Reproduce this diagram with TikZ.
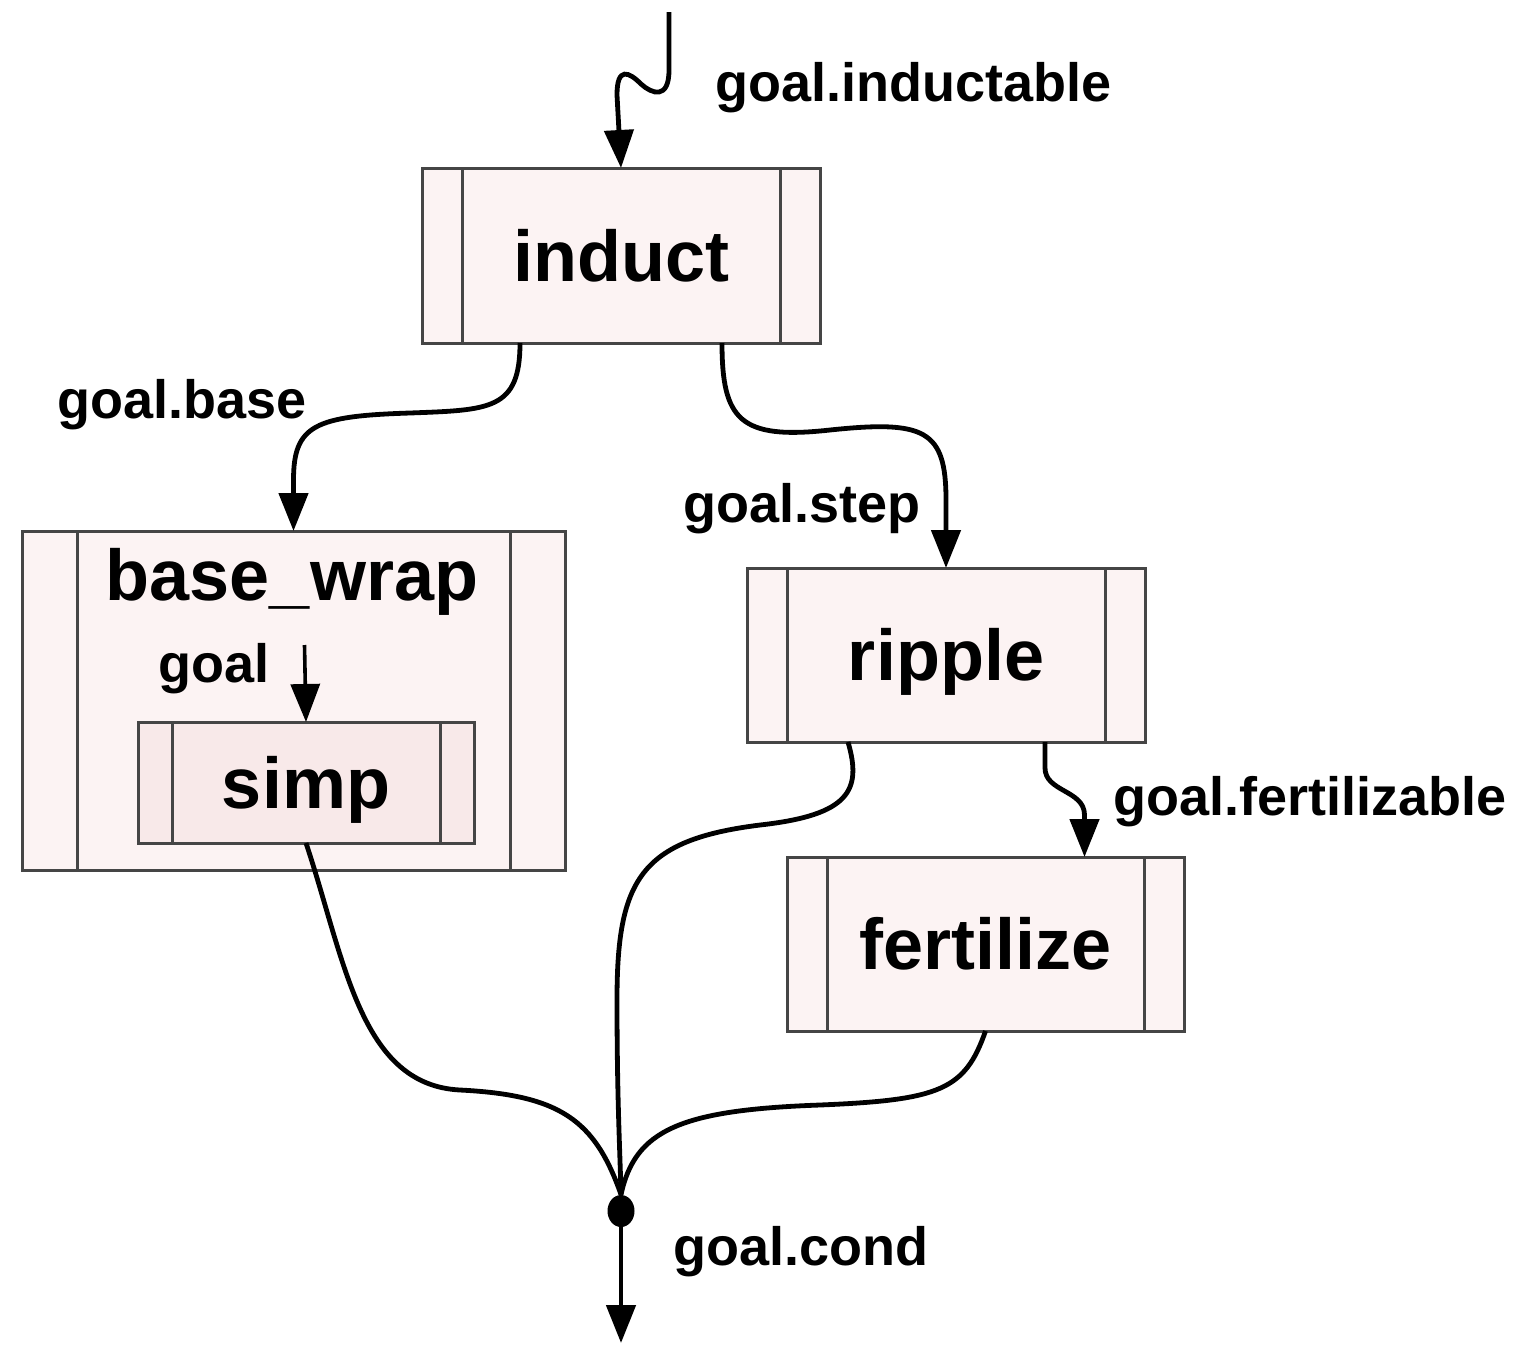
\documentclass[tikz,border=0pt]{standalone}
\usepackage{fontspec}
\setmainfont{Liberation Sans}
\usetikzlibrary{arrows.meta,calc,shapes.geometric}
\definecolor{frameline}{HTML}{454545}
\definecolor{boxfill}{HTML}{FCF3F3}
\definecolor{innerfill}{HTML}{F8E9E9}
\tikzset{
  proc/.style={draw=frameline, fill=boxfill, line width=1.5pt, inner sep=0pt, outer sep=0pt,
    font=\fontsize{36}{40}\selectfont\bfseries, text height=25.8pt, text depth=0pt},
  frame/.style={draw=frameline, line width=1.5pt},
  conn/.style={draw=black, line width=2.4pt},
  tip/.style={-{Triangle[length=19pt,width=14.5pt]}},
  lbl/.style={inner sep=0pt, anchor=base west, font=\fontsize{27}{30}\selectfont\bfseries},
}
\newcommand\sidebars[2]{%
  \draw[frame] ($(#1.north west)+(#2,0)$) -- ($(#1.south west)+(#2,0)$)
               ($(#1.north east)+(-#2,0)$) -- ($(#1.south east)+(-#2,0)$);}
\begin{document}
\begin{tikzpicture}[x=0.5pt,y=-0.5pt]
\useasboundingbox (0,0) rectangle (1514,1344);

% process boxes
\node[proc, minimum width=199pt, minimum height=87.5pt] (induct) at (621,255.5) {induct};
\sidebars{induct}{40}
\node[proc, minimum width=271.5pt, minimum height=169.5pt] (bw) at (293.5,700.5) {};
\sidebars{bw}{55}
\node[lbl, anchor=base, font=\fontsize{36}{40}\selectfont\bfseries] (bwtitle) at (292,600) {base\_wrap};
\node[proc, fill=innerfill, minimum width=168pt, minimum height=60.5pt] (simp) at (306,782.5) {simp};
\sidebars{simp}{34}
\node[proc, minimum width=199pt, minimum height=87pt] (ripple) at (946,655) {ripple};
\sidebars{ripple}{40}
\node[proc, minimum width=198.5pt, minimum height=87pt] (fert) at (985.5,944) {fertilize};
\sidebars{fert}{40}

% junction
\node[ellipse, fill=black, inner sep=0pt, minimum width=13.5pt, minimum height=16pt] (j) at (621,1211) {};
\coordinate (src) at (669,12);
\coordinate (out) at (621,1343);

% connectors
\draw[conn,tip] (src) -- (669,70) .. controls (669,100) and (652,94) .. (641,84)
  .. controls (629,72) and (617,66) .. (617,95) -- (induct.north);
\draw[conn,tip] ($(induct.south)+(-101,0)$) .. controls (520,410) and (490,410) .. (410,413)
  .. controls (315,416) and (293.5,425) .. (293.5,480) -- (bw.north);
\draw[conn,tip] ($(induct.south)+(101,0)$) .. controls (722,420) and (740,440) .. (830,430)
  .. controls (925,420) and (946,430) .. (946,500) -- (ripple.north);
\draw[conn, line width=1.8pt, tip] (304.5,645) -- (simp.north);
\draw[conn,tip] ($(ripple.south)+(99,0)$) -- (1045,768) .. controls (1045,792) and (1084.5,790) .. (1084.5,815)
  -- ($(fert.north)+(99,0)$);
\draw[conn] ($(ripple.south)+(-98,0)$) .. controls (862,790) and (850,815) .. (760,825)
  .. controls (640,840) and (617,880) .. (617,1000) .. controls (617,1100) and (620,1150) .. (j.north);
\draw[conn] (simp.south) .. controls (345,960) and (360,1085) .. (460,1090)
  .. controls (560,1095) and (595,1120) .. (j.north);
\draw[conn] (fert.south) .. controls (965,1090) and (940,1100) .. (820,1105)
  .. controls (680,1110) and (635,1130) .. (j.north);
\draw[conn,tip] (j.south) -- (out);

% labels
\node[lbl] (l1) at (715,101) {goal.inductable};
\node[lbl] (l2) at (57,418) {goal.base};
\node[lbl] (l3) at (683,522) {goal.step};
\node[lbl] (l4) at (158,682) {goal};
\node[lbl] (l5) at (1113,815) {goal.fertilizable};
\node[lbl] (l6) at (673,1265) {goal.cond};
\end{tikzpicture}
\end{document}
